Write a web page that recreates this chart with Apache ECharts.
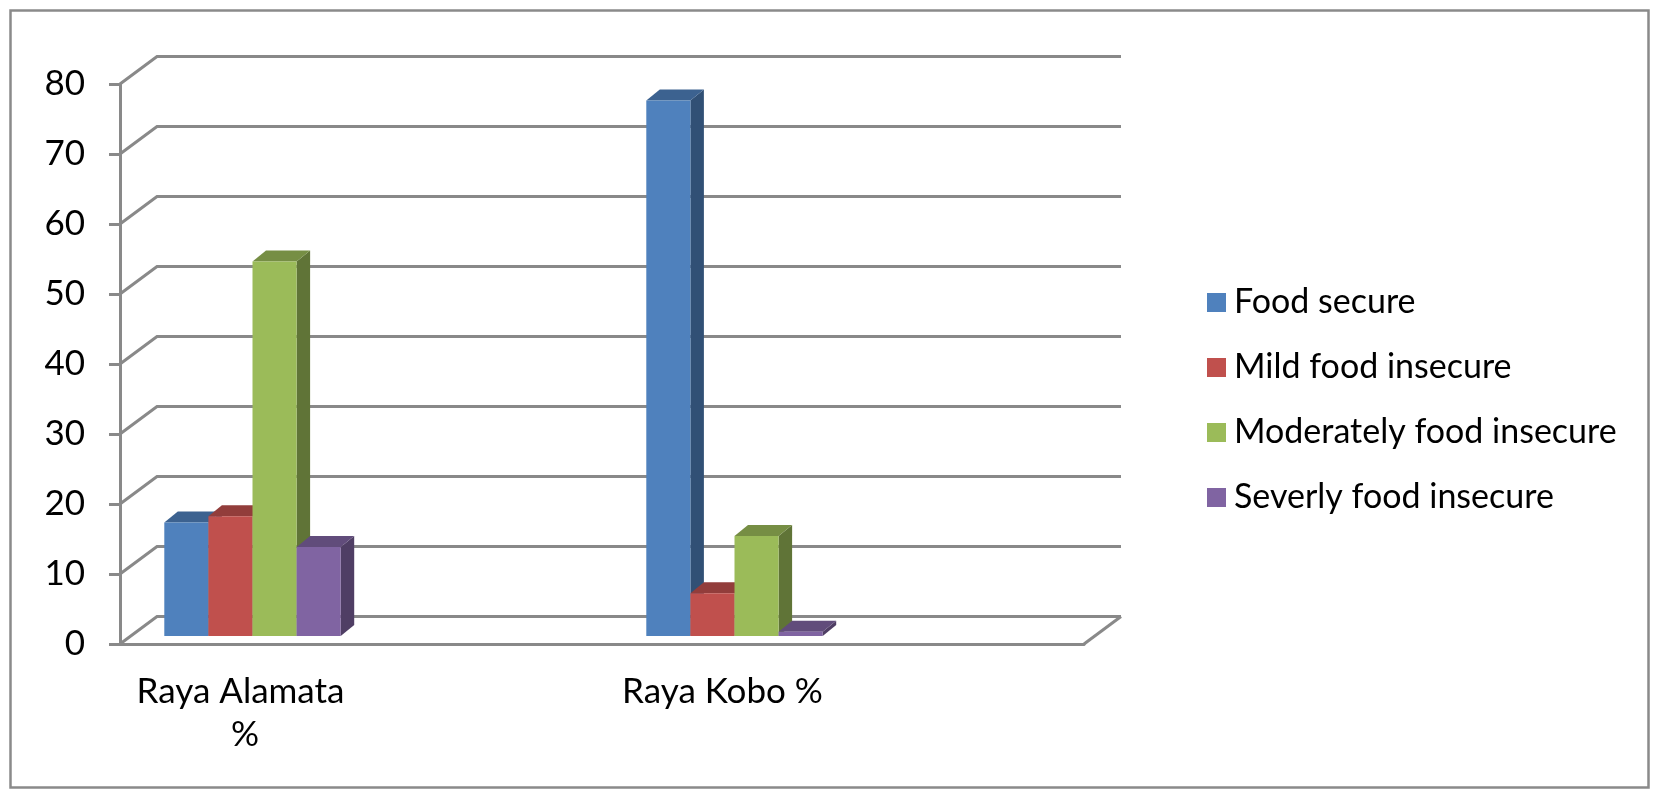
<!DOCTYPE html>
<html>
<head>
<meta charset="utf-8">
<script src="https://cdn.jsdelivr.net/npm/echarts@6/dist/echarts.min.js"></script>
<style>
  html, body { margin: 0; padding: 0; background: #fff; }
  #chart { width: 1654px; height: 794px; }
</style>
</head>
<body>
<div id="chart"></div>
<script>
// categories on the x axis (2nd and 4th slots are empty in the source chart)
const categories = ['Raya Alamata %', '', 'Raya Kobo %', ''];
const seriesNames = ['Food secure', 'Mild food insecure', 'Moderately food insecure', 'Severly food insecure'];
const foodSecure = [16.2, null, 76.5, null];
const mildInsecure = [17.1, null, 6.1, null];
const moderateInsecure = [53.5, null, 14.3, null];
const severeInsecure = [12.7, null, 0.6, null];
const yTicks = [0, 10, 20, 30, 40, 50, 60, 70, 80];

const seriesValues = [foodSecure, mildInsecure, moderateInsecure, severeInsecure];
const colors = ['#4F81BD', '#C0504D', '#9BBB59', '#8064A2'];

// fake 3d look
const WALL_DX = 37, WALL_DY = 27.5;   // back wall offset
const BAR_DX = 12, BAR_DY = 8;        // bar front face offset
const DEPTH_DX = 13.5, DEPTH_DY = 11; // bar thickness
const GRID_COLOR = '#898989';
const FONT = 'Lato';

function shade(hex, k) {
  const n = parseInt(hex.slice(1), 16);
  const r = Math.round(((n >> 16) & 255) * k);
  const g = Math.round(((n >> 8) & 255) * k);
  const b = Math.round((n & 255) * k);
  return 'rgb(' + r + ',' + g + ',' + b + ')';
}

const chart = echarts.init(document.getElementById('chart'), null, { renderer: 'canvas' });

// back wall + floor
const wallSeries = {
  type: 'custom',
  silent: true,
  clip: false,
  z: 1,
  data: yTicks.map(v => [0, v]),
  renderItem: (params, api) => {
    const cs = params.coordSys;
    const y = api.coord([0, api.value(1)])[1];
    const x0 = cs.x, x1 = cs.x + cs.width;
    const children = [{
      type: 'polyline',
      shape: { points: [[x0, y], [x0 + WALL_DX, y - WALL_DY], [x1 + WALL_DX, y - WALL_DY]] },
      style: { stroke: GRID_COLOR, lineWidth: 3, fill: null }
    }];
    if (api.value(1) === 0) {
      children.push({
        type: 'line',
        shape: { x1: x1, y1: y, x2: x1 + WALL_DX, y2: y - WALL_DY },
        style: { stroke: GRID_COLOR, lineWidth: 3 }
      });
    }
    return { type: 'group', children };
  }
};

// 3d-looking columns
const barSeries = seriesValues.map((vals, idx) => ({
  name: seriesNames[idx],
  type: 'custom',
  clip: false,
  z: 2 + idx,
  itemStyle: { color: colors[idx] },
  data: vals.map((v, i) => [i, v]),
  renderItem: (params, api) => {
    const v = api.value(1);
    if (v == null || isNaN(v)) return null;
    const cat = api.value(0);
    const base = api.coord([cat, 0]);
    const top = api.coord([cat, v]);
    const band = api.size([1, 0])[0];
    const w = band * 0.183;
    const x = base[0] - 2 * w + idx * w + BAR_DX;
    const yb = base[1] - BAR_DY;
    const yt = top[1] - BAR_DY;
    const c = colors[idx];
    return {
      type: 'group',
      children: [
        {
          type: 'polygon',
          shape: { points: [[x + w, yt], [x + w + DEPTH_DX, yt - DEPTH_DY], [x + w + DEPTH_DX, yb - DEPTH_DY], [x + w, yb]] },
          style: { fill: shade(c, 0.62) }
        },
        {
          type: 'polygon',
          shape: { points: [[x, yt], [x + DEPTH_DX, yt - DEPTH_DY], [x + w + DEPTH_DX, yt - DEPTH_DY], [x + w, yt]] },
          style: { fill: shade(c, 0.76) }
        },
        {
          type: 'rect',
          shape: { x: x, y: yt, width: w, height: yb - yt },
          style: { fill: c }
        }
      ]
    };
  }
}));

const option = {
  animation: false,
  backgroundColor: '#fff',
  graphic: [{
    type: 'rect',
    left: 8, top: 8,
    shape: { width: 1638, height: 777 },
    style: { fill: null, stroke: '#8a8a8a', lineWidth: 2.5 },
    silent: true
  }],
  grid: { left: 120, right: 570, top: 84, bottom: 150 },
  legend: {
    orient: 'vertical',
    left: 1202,
    top: 280,
    data: seriesNames,
    icon: 'rect',
    itemWidth: 19,
    itemHeight: 19,
    itemGap: 30,
    selectedMode: false,
    textStyle: { fontFamily: FONT, fontSize: 34, color: '#000', lineHeight: 35, padding: [0, 0, 0, 3] }
  },
  xAxis: {
    type: 'category',
    data: categories,
    axisLine: { lineStyle: { color: GRID_COLOR, width: 3 } },
    axisTick: { length: 13, lineStyle: { color: GRID_COLOR, width: 3 } },
    axisLabel: {
      margin: 26,
      fontFamily: FONT,
      fontSize: 35,
      lineHeight: 43,
      color: '#000',
      width: 215,
      overflow: 'break'
    },
    splitLine: { show: false }
  },
  yAxis: {
    type: 'value',
    min: 0,
    max: 80,
    interval: 10,
    axisLine: { show: true, lineStyle: { color: GRID_COLOR, width: 3 } },
    axisTick: { show: true, length: 11, lineStyle: { color: GRID_COLOR, width: 3 } },
    axisLabel: { margin: 35, fontFamily: FONT, fontSize: 35, color: '#000' },
    splitLine: { show: false }
  },
  series: [wallSeries].concat(barSeries)
};

chart.setOption(option);
</script>
</body>
</html>
